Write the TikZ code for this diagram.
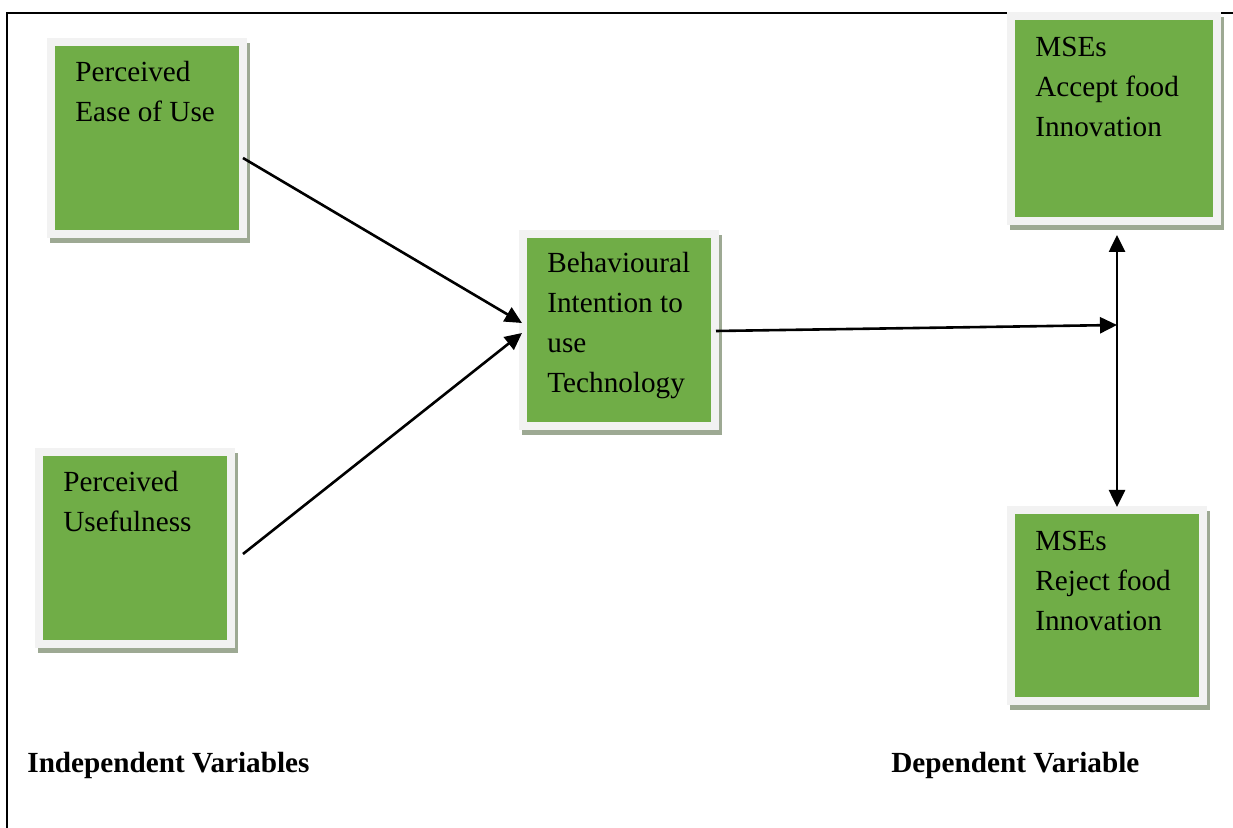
\documentclass[tikz,border=0pt]{standalone}
\usepackage{fontspec}
\setmainfont{Liberation Serif}
\usetikzlibrary{arrows.meta,shadows}

\definecolor{boxgreen}{HTML}{70AD47}
\definecolor{boxrim}{HTML}{F2F2F2}
\definecolor{boxshade}{HTML}{9DA993}

\tikzset{
  varbox/.style={fill=boxrim, minimum width=100pt, minimum height=100pt,
    inner sep=0pt, outer sep=0pt,
    drop shadow={shadow xshift=1.5pt, shadow yshift=-2.5pt, fill=boxshade, opacity=1},
    path picture={\fill[boxgreen] ([shift={(4pt,-4pt)}]path picture bounding box.north west)
      rectangle ([shift={(-4pt,4pt)}]path picture bounding box.south east);}},
  % base = baseline of the last line
  vartext/.style={anchor=base west, align=left, inner sep=0pt,
    font=\fontsize{14.6}{20}\selectfont},
  link/.style={line width=1.3pt, -{Triangle[length=8.5pt,width=8pt]}},
  caption/.style={anchor=base west, inner sep=0pt, font=\fontsize{14.6}{18}\selectfont\bfseries}
}

\begin{document}
\begin{tikzpicture}[x=0.5pt,y=-0.5pt]
    \useasboundingbox (0,0) rectangle (1233,828);

    % frame
    \draw[line width=1pt] (1233,13) -- (7,13) -- (7,828);

    % boxes
    \node[varbox] (peou) at (147,138) {};
    \node[varbox] (pu) at (135,548) {};
    \node[varbox] (bi) at (619,330) {};
    \node[varbox, minimum width=107pt, minimum height=106.5pt] (accept) at (1114,118.5) {};
    \node[varbox, minimum height=99.5pt] (reject) at (1107,605.5) {};

    \node[vartext] (peou-t) at ([shift={(28,84)}]peou.north west) {Perceived\\Ease of Use};
    \node[vartext] (pu-t) at ([shift={(28,84)}]pu.north west) {Perceived\\Usefulness};
    \node[vartext] (bi-t) at ([shift={(28,163)}]bi.north west) {Behavioural\\Intention to\\use\\Technology};
    \node[vartext] (accept-t) at ([shift={(28,125)}]accept.north west) {MSEs\\Accept food\\Innovation};
    \node[vartext] (reject-t) at ([shift={(28,125)}]reject.north west) {MSEs\\Reject food\\Innovation};

    % arrows
    \coordinate (mid) at (1117,325);
    \draw[link] ([shift={(-4,20)}]peou.east) -- ([shift={(3,-7)}]bi.west);
    \draw[link] ([shift={(8,6)}]pu.east) -- ([shift={(3,3)}]bi.west);
    \draw[link] ([shift={(-3,1)}]bi.east) -- (mid);
    \draw[link, {Triangle[length=8.5pt,width=8pt]}-{Triangle[length=8.5pt,width=8pt]}]
      ([shift={(0,10)}]accept.south -| mid) -- ([shift={(0,1)}]reject.north -| mid);

    % captions
    \node[caption] (indep) at (27,772) {Independent Variables};
    \node[caption] (dep) at (891,772) {Dependent Variable};
\end{tikzpicture}
\end{document}
